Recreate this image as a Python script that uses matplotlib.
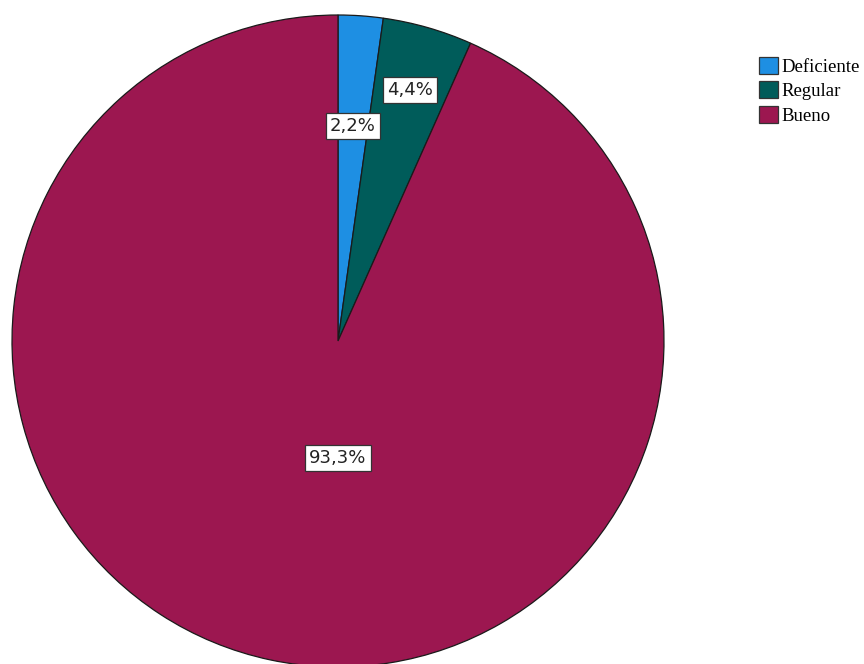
import matplotlib.pyplot as plt
from matplotlib.patches import Patch
import numpy as np

categorias = ['Deficiente', 'Regular', 'Bueno']
frecuencias = [1, 2, 42]
colores = ['#1e8fe3', '#005c5a', '#9c1750']

fig = plt.figure(figsize=(8.64, 6.64), dpi=100)
# pie centred at (338, 341) px, radius 326 px
R = 326
cx, cy = 338, 664 - 341
ax = fig.add_axes([(cx - R) / 864, (cy - R) / 664, 2 * R / 864, 2 * R / 664])
wedges, _ = ax.pie(frecuencias, colors=colores, startangle=90, counterclock=False,
                   wedgeprops=dict(edgecolor='#1a1a1a', linewidth=0.9))
ax.set_xlim(-1, 1)
ax.set_ylim(-1, 1)
ax.set_aspect('equal')
ax.axis('off')

total = sum(frecuencias)
porcentajes = [f / total * 100 for f in frecuencias]
distancias = [0.66, 0.80, 0.36]
for i, (w, p) in enumerate(zip(wedges, porcentajes)):
    ang = np.deg2rad((w.theta1 + w.theta2) / 2)
    if i == 2:
        ang = np.deg2rad(270)
    x, y = distancias[i] * np.cos(ang), distancias[i] * np.sin(ang)
    ax.text(x, y, f'{p:.1f}%'.replace('.', ','), ha='center', va='center',
            fontsize=13, family='DejaVu Sans', color='#222222',
            bbox=dict(boxstyle='square,pad=0.22', facecolor='white',
                      edgecolor='#333333', linewidth=0.9))

handles = [Patch(facecolor=c, edgecolor='#333333', linewidth=0.9) for c in colores]
fig.legend(handles, categorias, loc='upper left', bbox_to_anchor=(759 / 864, 1 - 57 / 664),
           frameon=False, prop={'family': 'Liberation Serif', 'size': 13.5},
           handlelength=1.0, handleheight=1.0, handletextpad=0.2, labelspacing=0.3,
           borderpad=0, borderaxespad=0)

fig.savefig('out.png', dpi=100)
